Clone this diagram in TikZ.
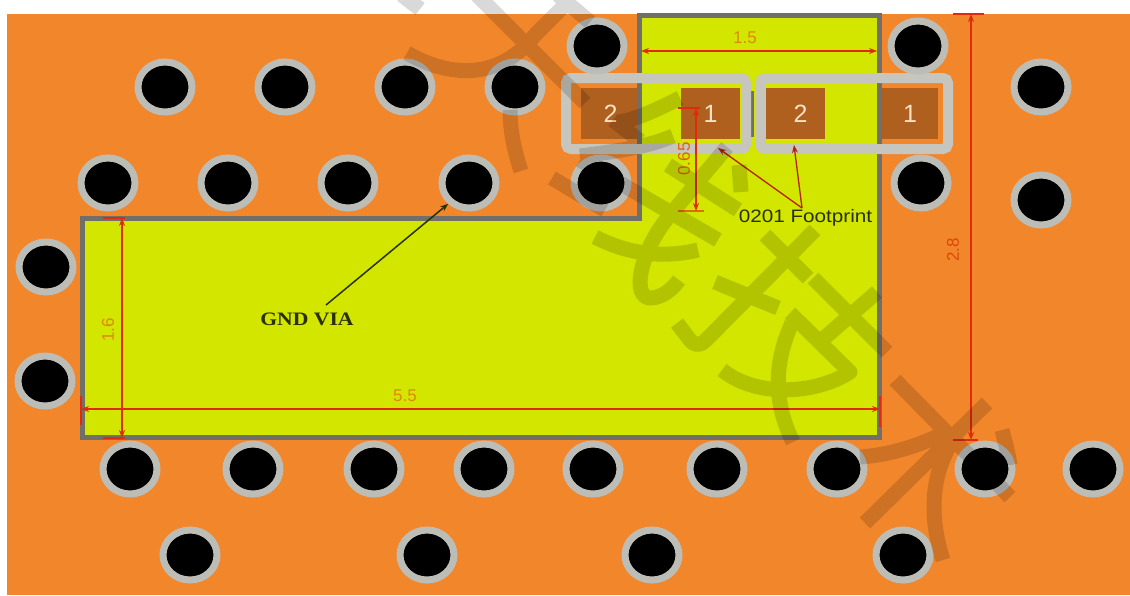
\documentclass[tikz,border=0pt]{standalone}
\usepackage{fontspec}
\setmainfont{Liberation Sans}
\newfontfamily\gndfont{Liberation Serif}
\usetikzlibrary{arrows.meta,shapes.geometric}
\definecolor{boardcol}{HTML}{F2862B}
\definecolor{limecol}{HTML}{D2E600}
\definecolor{tracecol}{HTML}{707068}
\definecolor{ringcol}{HTML}{BDBDB8}
\definecolor{silkcol}{HTML}{C6C6BE}
\definecolor{padcol}{HTML}{AF5F1E}
\definecolor{dimcol}{HTML}{E02A0C}
\definecolor{dimtext}{HTML}{DB8A08}
\definecolor{padtext}{HTML}{F6E2C4}
\definecolor{labelcol}{HTML}{2A3000}
\tikzset{
  viahole/.style={ellipse,draw=ringcol,fill=black,line width=7pt,minimum width=54pt,minimum height=50pt,inner sep=0pt},
  padbox/.style={fill=padcol,minimum width=59pt,minimum height=51pt,inner sep=0pt,text=padtext,font=\fontsize{25}{25}\selectfont},
  silk/.style={draw=silkcol,line width=10pt,rounded corners=5pt},
  dimline/.style={draw=dimcol,line width=1.3pt,{Stealth[length=8pt,width=6pt]}-{Stealth[length=8pt,width=6pt]}},
  dimtick/.style={draw=dimcol,line width=1.3pt},
  dimlabel/.style={text=dimtext,font=\fontsize{17}{17}\selectfont,inner sep=0pt},
  callout/.style={draw=dimcol!80!black,line width=1.3pt,-{Stealth[length=8pt,width=6pt]}},
  wm/.style={line width=15pt,line cap=butt,line join=round}
}
\begin{document}
\begin{tikzpicture}[x=1pt,y=-1pt]
\useasboundingbox (0,0) rectangle (1130,595);
\clip (0,0) rectangle (1130,595);
\fill[white] (0,0) rectangle (1130,595);
\fill[boardcol] (7,14) rectangle (1130,595);
% trace copper
\fill[limecol] (82,218.5) -- (639.5,218.5) -- (639.5,15.5) -- (879,15.5) -- (879,437.5) -- (82,437.5) -- cycle;
% pads
\node[padbox] (padA) at (610.5,113.5) {2};
\node[padbox] (padB) at (710.5,113.5) {1};
\node[padbox] (padC) at (795.5,113.5) {\hspace*{10pt}2};
\node[padbox] (padD) at (908.5,113.5) {\hspace*{3pt}1};
\draw[tracecol,line width=5pt,line join=miter] (82,218.5) -- (639.5,218.5) -- (639.5,15.5) -- (879,15.5) -- (879,437.5) -- (82,437.5) -- cycle;
\draw[tracecol,line width=2.5pt] (752.5,91) -- (752.5,137);
% footprints
\node[silk,minimum width=180pt,minimum height=71pt,inner sep=0pt] (silkL) at (656,113.5) {};
\node[silk,minimum width=188pt,minimum height=71pt,inner sep=0pt] (silkR) at (854,113.5) {};
% vias
\foreach \n/\x/\y in {1/597/46,2/918/46,3/165/87,4/285/87,5/405/87,6/515/87,7/1041/87,
  8/108/183,9/228/183,10/348/183,11/469/183,12/601/183,13/921/183,14/1041/200,
  15/46/267,16/45/381,
  17/130/469,18/253/469,19/374/469,20/484/469,21/593/469,22/717/469,23/837/469,24/985/469,25/1093/469,
  26/190/555,27/427/555,28/652/555,29/903/555}
  {\node[viahole] (via\n) at (\x,\y) {};}
% dimension 1.5
\coordinate (a15) at (641,51); \coordinate (b15) at (877,51);
\draw[dimline] (a15) -- (b15);
\node[dimlabel] (t15) at (745,38) {1.5};
% dimension 0.65
\coordinate (a065t) at (678,108); \coordinate (b065t) at (700,108);
\coordinate (a065b) at (678,211); \coordinate (b065b) at (704,211);
\coordinate (a065) at (696,108); \coordinate (b065) at (696,211);
\draw[dimtick] (a065t) -- (b065t);
\draw[dimtick,draw=dimtext!70!dimcol] (a065b) -- (b065b);
\draw[dimline] (a065) -- (b065);
\node[dimlabel,rotate=90,text=dimcol!40!dimtext] (t065) at (684,159) {0.65};
% dimension 2.8
\coordinate (a28t) at (953,14); \coordinate (b28t) at (984,14);
\coordinate (a28b) at (953,440); \coordinate (b28b) at (978,440);
\coordinate (a28) at (971,14); \coordinate (b28) at (971,440);
\draw[dimtick] (a28t) -- (b28t);
\draw[dimtick] (a28b) -- (b28b);
\draw[dimline] (a28) -- (b28);
\node[dimlabel,rotate=90,text=dimcol!70!dimtext] (t28) at (953,250) {2.8};
% dimension 5.5
\coordinate (a55t) at (81,396); \coordinate (b55t) at (81,425);
\coordinate (a55u) at (880,396); \coordinate (b55u) at (880,427);
\coordinate (a55) at (81,409); \coordinate (b55) at (880,409);
\draw[dimtick] (a55t) -- (b55t);
\draw[dimtick] (a55u) -- (b55u);
\draw[dimline] (a55) -- (b55);
\node[dimlabel] (t55) at (405,396) {5.5};
% dimension 1.6
\coordinate (a16t) at (103,218); \coordinate (b16t) at (125,218);
\coordinate (a16b) at (103,438); \coordinate (b16b) at (125,438);
\coordinate (a16) at (122,218); \coordinate (b16) at (122,438);
\draw[dimtick] (a16t) -- (b16t);
\draw[dimtick] (a16b) -- (b16b);
\draw[dimline] (a16) -- (b16);
\node[dimlabel,rotate=90] (t16) at (108,330) {1.6};
% footprint label
\node[font=\fontsize{18}{18}\selectfont,text=labelcol,inner sep=0pt,xscale=1.15] (fpl) at (805.5,218) {0201 Footprint};
\coordinate (fpo) at (802,208);
\coordinate (fpa) at (718,148);
\coordinate (fpb) at (794,145);
\draw[callout] (fpo) -- (fpa);
\draw[callout] (fpo) -- (fpb);
% GND VIA
\node[font=\gndfont\bfseries\fontsize{19}{19}\selectfont,text=labelcol,inner sep=0pt,xscale=1.14] (gnd) at (307,319) {GND VIA};
\coordinate (gndo) at (326,305);
\draw[draw=labelcol,line width=1.5pt,-{Stealth[length=8pt,width=6pt]}] (gndo) -- (via11.225);
% overlaid translucent strokes
\begin{scope}[transparency group,opacity=.15]
\draw[wm] (407,53) .. controls (450,78) and (500,80) .. (535,35) -- (568,2);
\draw[wm] (477,-5) -- (585,103);
\draw[wm] (402,-5) -- (420,9);
\draw[wm] (558,-5) -- (590,22);
\draw[wm] (510,110) .. controls (510,130) and (514,150) .. (521,171);
\draw[wm] (620,122) .. controls (640,118) and (660,108) .. (680,98);
\draw[wm] (613,120) -- (640,141);
\draw[wm] (580,156) .. controls (610,152) and (645,148) .. (673,136);
\draw[wm] (552,178) -- (605,210);
\draw[wm] (580,160) -- (718,240);
\draw[wm] (727,147) -- (670,215) .. controls (640,250) and (630,300) .. (652,298) .. controls (662,297) and (672,290) .. (679,280);
\draw[wm] (595,237) .. controls (630,255) and (665,258) .. (698,250);
\draw[wm] (668,165) -- (738,210);
\draw[wm] (741,192) -- (739,165);
\draw[wm] (765,235) -- (808,278);
\draw[wm] (815,230) -- (706,340) .. controls (700,346) and (695,346) .. (690,340) -- (677,323);
\draw[wm] (715,282) -- (778,308);
\draw[wm] (813,278) -- (887,352);
\draw[wm] (877,292) -- (822,340);
\draw[wm] (790,313) -- (850,372) .. controls (820,392) and (760,400) .. (722,370);
\draw[wm] (792,323) .. controls (775,360) and (772,400) .. (793,442);
\draw[wm] (895,380) -- (1010,497);
\draw[wm] (987,403) -- (865,523);
\draw[wm] (860,457) .. controls (890,455) and (920,445) .. (940,435);
\draw[wm] (950,445) .. controls (930,480) and (930,520) .. (943,560);
\draw[wm] (1002,430) .. controls (1005,442) and (1008,452) .. (1010,465);
\end{scope}
\end{tikzpicture}
\end{document}
